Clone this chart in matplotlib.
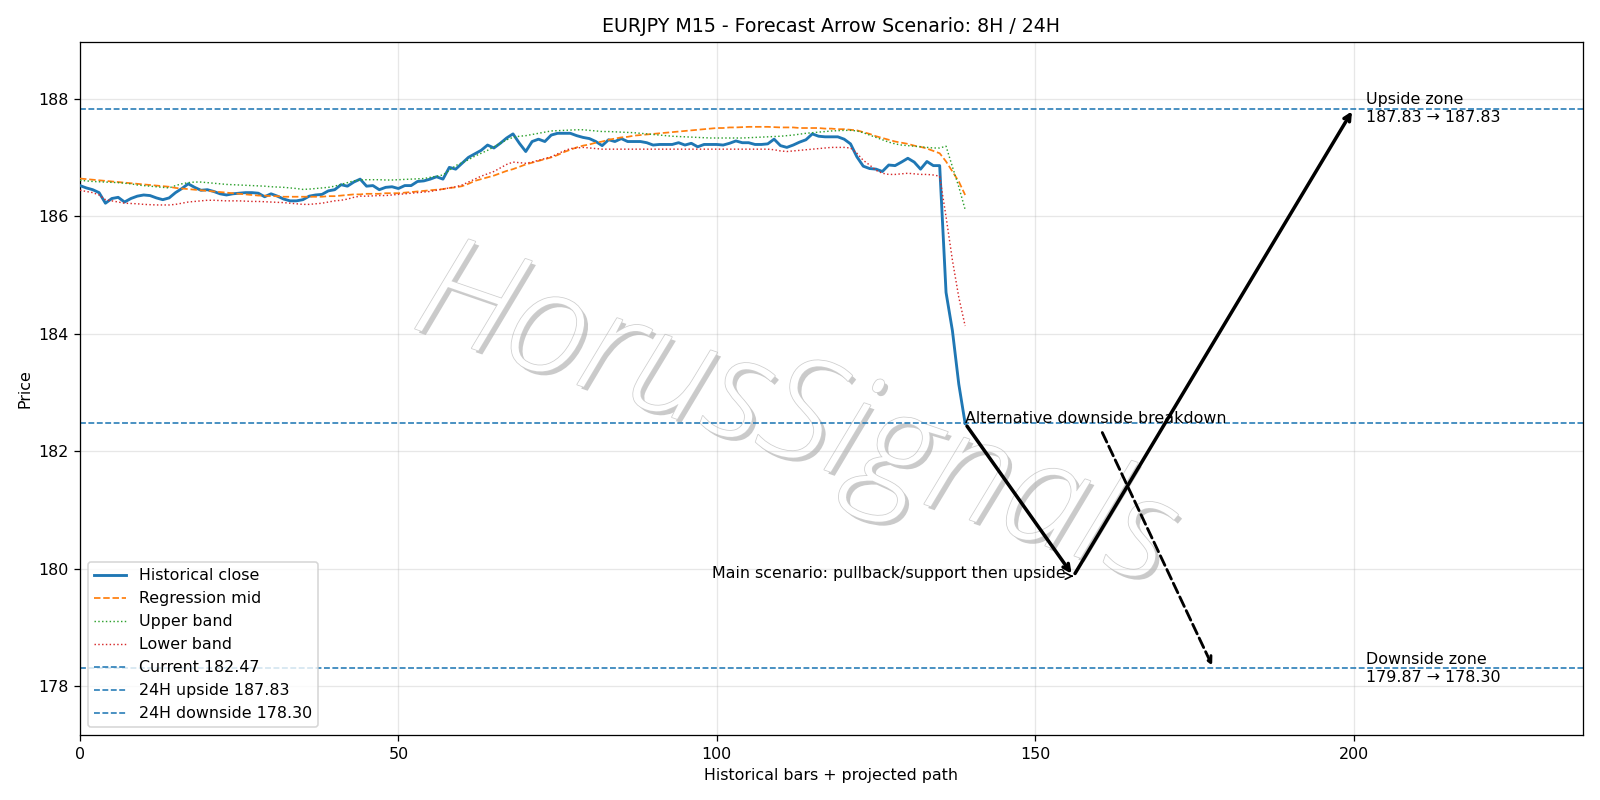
import matplotlib
matplotlib.use("Agg")
import matplotlib.pyplot as plt
import matplotlib.patheffects as pe
import numpy as np

title = "EURJPY M15 - Forecast Arrow Scenario: 8H / 24H"

close = [186.52, 186.48, 186.45, 186.40, 186.22, 186.30, 186.32, 186.24, 186.30, 186.34,
         186.36, 186.35, 186.31, 186.28, 186.31, 186.40, 186.47, 186.55, 186.49, 186.44,
         186.45, 186.42, 186.38, 186.36, 186.38, 186.39, 186.40, 186.40, 186.39, 186.33,
         186.38, 186.34, 186.29, 186.26, 186.26, 186.28, 186.34, 186.36, 186.37, 186.43,
         186.45, 186.535, 186.51, 186.58, 186.63, 186.51, 186.52, 186.45, 186.49, 186.50,
         186.47, 186.52, 186.52, 186.59, 186.60, 186.63, 186.67, 186.63, 186.83, 186.80,
         186.90, 187.00, 187.06, 187.12, 187.21, 187.16, 187.24, 187.33, 187.40, 187.24,
         187.10, 187.27, 187.31, 187.27, 187.38, 187.41, 187.41, 187.41, 187.37, 187.34,
         187.32, 187.27, 187.20, 187.30, 187.27, 187.32, 187.27, 187.27, 187.27, 187.25,
         187.21, 187.22, 187.22, 187.22, 187.25, 187.21, 187.24, 187.18, 187.22, 187.22,
         187.22, 187.21, 187.24, 187.28, 187.25, 187.25, 187.22, 187.22, 187.23, 187.31,
         187.20, 187.17, 187.21, 187.26, 187.30, 187.40, 187.36, 187.35, 187.35, 187.35,
         187.31, 187.23, 187.01, 186.85, 186.81, 186.80, 186.76, 186.87, 186.86, 186.92,
         186.985, 186.92, 186.80, 186.93, 186.86, 186.86, 184.70, 184.05, 183.14, 182.47]

reg_mid = [186.64, 186.63, 186.62, 186.61, 186.60, 186.59, 186.58, 186.57, 186.56, 186.55,
           186.54, 186.53, 186.52, 186.51, 186.50, 186.48, 186.47, 186.46, 186.45, 186.44,
           186.43, 186.42, 186.41, 186.40, 186.39, 186.38, 186.37, 186.36, 186.35, 186.35,
           186.34, 186.34, 186.33, 186.33, 186.33, 186.33, 186.33, 186.33, 186.33, 186.34,
           186.34, 186.35, 186.36, 186.37, 186.37, 186.38, 186.38, 186.38, 186.39, 186.39,
           186.39, 186.40, 186.41, 186.42, 186.43, 186.44, 186.45, 186.46, 186.48, 186.49,
           186.51, 186.55, 186.60, 186.63, 186.66, 186.69, 186.73, 186.77, 186.80, 186.84,
           186.88, 186.91, 186.94, 186.97, 187.00, 187.04, 187.09, 187.13, 187.17, 187.20,
           187.22, 187.25, 187.27, 187.30, 187.32, 187.34, 187.35, 187.37, 187.38, 187.39,
           187.40, 187.41, 187.42, 187.43, 187.44, 187.45, 187.46, 187.47, 187.48, 187.49,
           187.50, 187.50, 187.51, 187.51, 187.515, 187.52, 187.52, 187.52, 187.52, 187.515,
           187.51, 187.51, 187.51, 187.50, 187.50, 187.50, 187.50, 187.49, 187.49, 187.48,
           187.48, 187.47, 187.46, 187.43, 187.40, 187.36, 187.33, 187.30, 187.27, 187.25,
           187.23, 187.20, 187.18, 187.15, 187.11, 187.07, 186.93, 186.76, 186.59, 186.36]

upper_band = [186.61, 186.60, 186.59, 186.585, 186.58, 186.575, 186.57, 186.56, 186.55, 186.53,
              186.52, 186.51, 186.50, 186.49, 186.48, 186.52, 186.55, 186.57, 186.58, 186.58,
              186.57, 186.56, 186.55, 186.54, 186.535, 186.53, 186.525, 186.52, 186.515, 186.51,
              186.50, 186.495, 186.49, 186.48, 186.47, 186.455, 186.46, 186.47, 186.48, 186.49,
              186.51, 186.54, 186.57, 186.60, 186.615, 186.62, 186.62, 186.62, 186.615, 186.615,
              186.62, 186.625, 186.63, 186.635, 186.64, 186.66, 186.68, 186.70, 186.78, 186.86,
              186.91, 186.96, 187.02, 187.07, 187.12, 187.18, 187.24, 187.30, 187.34, 187.36,
              187.37, 187.39, 187.41, 187.43, 187.45, 187.455, 187.46, 187.465, 187.47, 187.47,
              187.46, 187.45, 187.44, 187.44, 187.435, 187.43, 187.425, 187.42, 187.41, 187.40,
              187.39, 187.38, 187.37, 187.36, 187.355, 187.35, 187.345, 187.34, 187.335, 187.33,
              187.33, 187.33, 187.33, 187.33, 187.33, 187.335, 187.34, 187.345, 187.35, 187.355,
              187.36, 187.37, 187.38, 187.395, 187.41, 187.42, 187.43, 187.44, 187.45, 187.455,
              187.46, 187.46, 187.45, 187.42, 187.38, 187.34, 187.30, 187.26, 187.23, 187.21,
              187.20, 187.19, 187.18, 187.17, 187.16, 187.16, 187.19, 186.84, 186.50, 186.11]

lower_band = [186.44, 186.42, 186.40, 186.36, 186.28, 186.26, 186.24, 186.22, 186.215, 186.21,
              186.20, 186.195, 186.19, 186.19, 186.19, 186.20, 186.22, 186.24, 186.25, 186.26,
              186.27, 186.27, 186.265, 186.26, 186.26, 186.26, 186.255, 186.25, 186.25, 186.245,
              186.24, 186.235, 186.23, 186.22, 186.21, 186.20, 186.20, 186.21, 186.22, 186.24,
              186.26, 186.27, 186.29, 186.32, 186.34, 186.34, 186.345, 186.35, 186.35, 186.36,
              186.37, 186.38, 186.39, 186.40, 186.41, 186.42, 186.44, 186.46, 186.48, 186.50,
              186.53, 186.58, 186.63, 186.68, 186.72, 186.76, 186.82, 186.88, 186.92, 186.91,
              186.90, 186.92, 186.95, 186.98, 187.01, 187.06, 187.11, 187.15, 187.16, 187.17,
              187.16, 187.15, 187.14, 187.14, 187.14, 187.14, 187.14, 187.14, 187.14, 187.14,
              187.14, 187.14, 187.14, 187.14, 187.14, 187.14, 187.14, 187.14, 187.14, 187.14,
              187.14, 187.14, 187.14, 187.14, 187.14, 187.14, 187.14, 187.14, 187.14, 187.13,
              187.11, 187.10, 187.11, 187.12, 187.13, 187.14, 187.15, 187.16, 187.17, 187.17,
              187.17, 187.16, 187.07, 186.95, 186.87, 186.78, 186.73, 186.71, 186.71, 186.72,
              186.73, 186.72, 186.71, 186.71, 186.70, 186.68, 185.99, 185.25, 184.62, 184.13]

current = 182.47
up_24h = 187.83
down_24h = 178.30
pullback_8h = 179.87
bar_now = 139
bar_8h = 156
bar_24h = 200
bar_alt = 178
horizon_end = 236

fig, ax = plt.subplots(figsize=(14, 7), dpi=1600 / 14)

# watermark
ax.text(0.475, 0.455, "HorusSignals", transform=ax.transAxes, fontsize=90,
        rotation=-19, ha="center", va="center", color="white", zorder=0.5,
        style="italic", family=["Open Sans", "DejaVu Sans"], fontweight="light",
        path_effects=[pe.SimplePatchShadow(offset=(2.5, -2.5), shadow_rgbFace="#bdbdbd", alpha=0.8),
                      pe.Stroke(linewidth=1.0, foreground="#cfcfcf"), pe.Normal()])

x = np.arange(len(close))
ax.plot(x, close, color="tab:blue", lw=1.8, label="Historical close", zorder=3)
ax.plot(x, reg_mid, color="tab:orange", lw=1.1, ls="--", label="Regression mid", zorder=3)
ax.plot(x, upper_band, color="tab:green", lw=0.9, ls=":", label="Upper band", zorder=3)
ax.plot(x, lower_band, color="tab:red", lw=0.9, ls=":", label="Lower band", zorder=3)

ax.axhline(current, color="tab:blue", lw=1, ls="--", label=f"Current {current:.2f}")
ax.axhline(up_24h, color="tab:blue", lw=1, ls="--", label=f"24H upside {up_24h:.2f}")
ax.axhline(down_24h, color="tab:blue", lw=1, ls="--", label=f"24H downside {down_24h:.2f}")

# main scenario arrows
ax.annotate("", xy=(bar_8h, pullback_8h), xytext=(bar_now, current),
            arrowprops=dict(arrowstyle="->", lw=2.2, color="black"), zorder=4)
ax.annotate("", xy=(bar_24h, up_24h), xytext=(bar_8h, pullback_8h),
            arrowprops=dict(arrowstyle="->", lw=2.2, color="black"), zorder=4)
ax.annotate("Main scenario: pullback/support then upside", xy=(bar_8h, pullback_8h),
            xytext=(-5, 2), textcoords="offset points", ha="right", va="center",
            fontsize=10, arrowprops=dict(arrowstyle="->", lw=1, color="black"))
ax.annotate("Alternative downside breakdown", xy=(bar_alt, down_24h),
            xytext=(bar_now, current), fontsize=10,
            arrowprops=dict(arrowstyle="->", lw=1.8, ls="--", color="black"))

ax.text(bar_24h + 2, up_24h, f"Upside zone\n{up_24h:.2f} \u2192 {up_24h:.2f}",
        va="center", ha="left", fontsize=10)
ax.text(bar_24h + 2, down_24h, f"Downside zone\n{pullback_8h:.2f} \u2192 {down_24h:.2f}",
        va="center", ha="left", fontsize=10)

ax.set_xlim(0, horizon_end)
ax.set_ylim(177.16, 188.97)
ax.set_title(title, fontsize=12)
ax.set_xlabel("Historical bars + projected path")
ax.set_ylabel("Price")
ax.grid(True, alpha=0.3)
ax.legend(loc="lower left", fontsize=10)

fig.tight_layout()
fig.savefig("out.png", dpi=1600 / 14)
